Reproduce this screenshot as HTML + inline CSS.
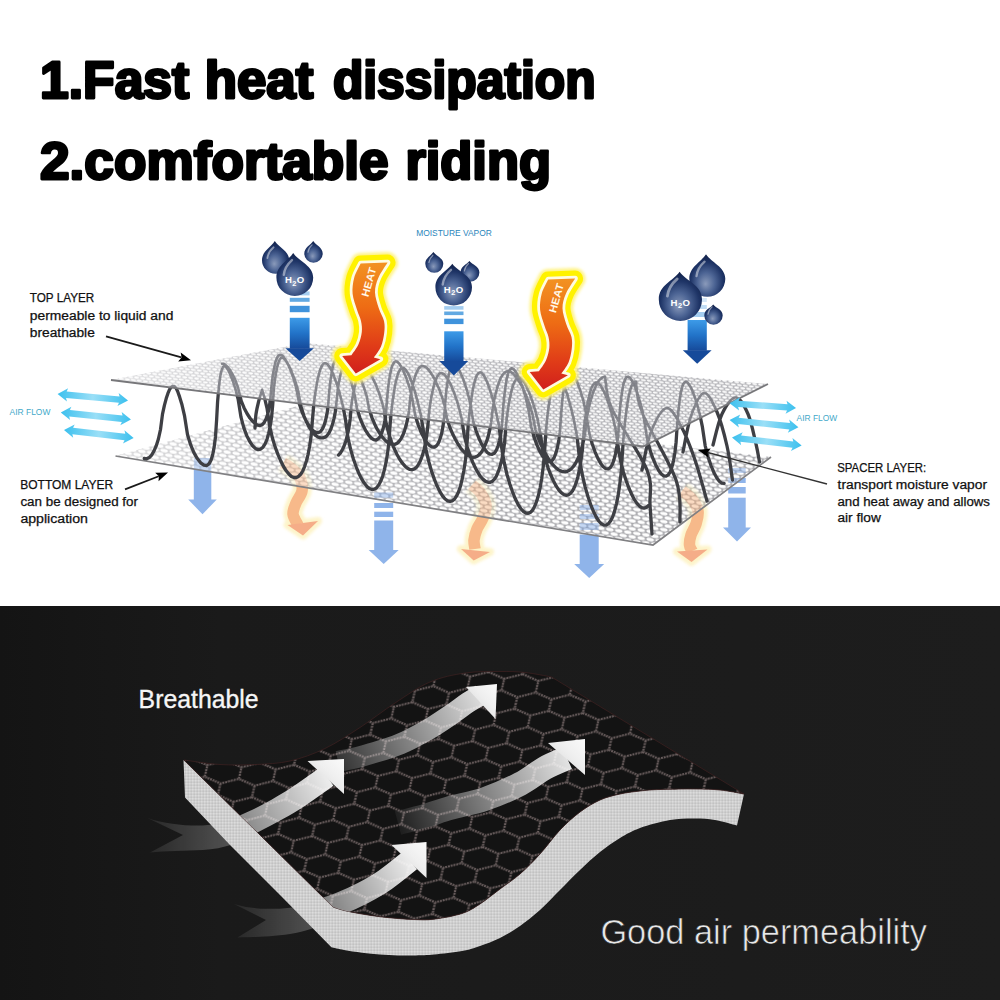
<!DOCTYPE html>
<html><head><meta charset="utf-8"><title>Fast heat dissipation</title>
<style>html,body{margin:0;padding:0;background:#fff}svg{display:block}</style>
</head><body>
<svg width="1000" height="1000" viewBox="0 0 1000 1000">
<defs>
  <pattern id="meshB" width="9" height="8" patternUnits="userSpaceOnUse" patternTransform="matrix(1 0.15 0 1 0 0)">
    <rect width="9" height="8" fill="#98989d"/>
    <ellipse cx="2.25" cy="2" rx="3.75" ry="1.75" fill="#fff"/>
    <ellipse cx="6.75" cy="6" rx="3.75" ry="1.75" fill="#fff"/>
    <ellipse cx="11.25" cy="2" rx="3.75" ry="1.75" fill="#fff"/>
    <ellipse cx="-2.25" cy="6" rx="3.75" ry="1.75" fill="#fff"/>
  </pattern>
  <pattern id="meshT" width="6" height="5.6" patternUnits="userSpaceOnUse" patternTransform="matrix(1 0.11 0 1 0 0)">
    <rect width="6" height="5.6" fill="#adadb2"/>
    <ellipse cx="1.5" cy="1.4" rx="2.45" ry="1.05" fill="#fff"/>
    <ellipse cx="4.5" cy="4.2" rx="2.45" ry="1.05" fill="#fff"/>
    <ellipse cx="7.5" cy="1.4" rx="2.45" ry="1.05" fill="#fff"/>
    <ellipse cx="-1.5" cy="4.2" rx="2.45" ry="1.05" fill="#fff"/>
  </pattern>
  <pattern id="honey" width="31" height="32" patternUnits="userSpaceOnUse" patternTransform="matrix(1.1 0.07 -0.25 1.08 3 4)">
    <rect width="31" height="32" fill="#131313"/>
    <path d="M15.5,5.33L31,10.67L31,21.33L15.5,26.67L0,21.33L0,10.67ZM15.5,26.67V32M15.5,0V5.33" fill="none" stroke="#6a5e5e" stroke-width="2" stroke-dasharray="1.7 0.8"/>
  </pattern>
  <pattern id="weave" width="3" height="3" patternUnits="userSpaceOnUse">
    <rect width="3" height="3" fill="#cfcfcf"/>
    <rect width="1.5" height="1.5" fill="#dcdcdc"/>
    <rect x="1.5" y="1.5" width="1.5" height="1.5" fill="#c2c2c2"/>
  </pattern>
  <radialGradient id="gDrop" cx="0.5" cy="0.62" r="0.6" fx="0.45" fy="0.7">
    <stop offset="0" stop-color="#8a9aba"/>
    <stop offset="0.4" stop-color="#4c6494"/>
    <stop offset="0.75" stop-color="#1e3466"/>
    <stop offset="1" stop-color="#12224a"/>
  </radialGradient>
  <linearGradient id="gBlue" x1="0" y1="0" x2="0" y2="1">
    <stop offset="0" stop-color="#3d9be8"/>
    <stop offset="0.5" stop-color="#2273c8"/>
    <stop offset="1" stop-color="#164a9a"/>
  </linearGradient>
  <linearGradient id="gHeat" x1="0" y1="0" x2="0" y2="1">
    <stop offset="0" stop-color="#f29222"/>
    <stop offset="0.4" stop-color="#ee6c14"/>
    <stop offset="0.75" stop-color="#e03c18"/>
    <stop offset="1" stop-color="#d11f1c"/>
  </linearGradient>
  <linearGradient id="gAir" x1="0" y1="0" x2="1" y2="0">
    <stop offset="0" stop-color="#3cc0ee"/>
    <stop offset="0.5" stop-color="#9adff7"/>
    <stop offset="1" stop-color="#3cc0ee"/>
  </linearGradient>
  <linearGradient id="gDark" x1="0" y1="0" x2="1" y2="0">
    <stop offset="0" stop-color="#141414"/>
    <stop offset="0.22" stop-color="#1a1a1a"/>
    <stop offset="1" stop-color="#1d1d1d"/>
  </linearGradient>
  <linearGradient id="gFade" gradientUnits="userSpaceOnUse" x1="110" y1="0" x2="520" y2="0">
    <stop offset="0" stop-color="#fff" stop-opacity="0.6"/>
    <stop offset="0.5" stop-color="#fff" stop-opacity="0.22"/>
    <stop offset="1" stop-color="#fff" stop-opacity="0"/>
  </linearGradient>
  <filter id="blur2" x="-30%" y="-30%" width="160%" height="160%"><feGaussianBlur stdDeviation="1.6"/></filter>
  <filter id="blur1" x="-30%" y="-30%" width="160%" height="160%"><feGaussianBlur stdDeviation="0.7"/></filter>
</defs>


<g font-family="'Liberation Sans', sans-serif" font-weight="700" fill="#000" stroke="#000" stroke-width="2.8" stroke-linejoin="round">
  <text y="97.8" font-size="51"><tspan x="40" textLength="149.3" lengthAdjust="spacingAndGlyphs">1.Fast</tspan> <tspan x="204.7" textLength="108.7" lengthAdjust="spacingAndGlyphs">heat</tspan> <tspan x="332.9" textLength="262.7" lengthAdjust="spacingAndGlyphs">dissipation</tspan></text>
  <text y="179.4" font-size="51"><tspan x="40" textLength="348.7" lengthAdjust="spacingAndGlyphs">2.comfortable</tspan> <tspan x="405.4" textLength="145.6" lengthAdjust="spacingAndGlyphs">riding</tspan></text>
</g>

<g id="diagram">
<g id="under">
<g><rect x="193.8" y="458" width="17.5" height="42" fill="#8fb4ea"/><polygon points="188.2,499.5 216.8,499.5 202.5,514.2" fill="#8fb4ea"/></g>
<g><rect x="374.2" y="492.5" width="19" height="5.2" fill="#8fb4ea"/><rect x="374.2" y="503" width="19" height="5" fill="#8fb4ea"/><rect x="374.2" y="511.7" width="19" height="5.3" fill="#8fb4ea"/><rect x="374.2" y="520.5" width="19" height="30" fill="#8fb4ea"/><polygon points="368.7,550 398.7,550 383.7,564" fill="#8fb4ea"/></g>
<g><rect x="579.7" y="505" width="19" height="5" fill="#8fb4ea"/><rect x="579.7" y="514" width="19" height="5" fill="#8fb4ea"/><rect x="579.7" y="523" width="19" height="7" fill="#8fb4ea"/><rect x="579.7" y="534.5" width="19" height="30" fill="#8fb4ea"/><polygon points="574.2,564 604.2,564 589.2,578" fill="#8fb4ea"/></g>
<g><rect x="728.2" y="468" width="17.5" height="5" fill="#8fb4ea"/><rect x="728.2" y="478" width="17.5" height="5" fill="#8fb4ea"/><rect x="728.2" y="487" width="17.5" height="6.5" fill="#8fb4ea"/><rect x="728.2" y="497.7" width="17.5" height="30.3" fill="#8fb4ea"/><polygon points="723,527.5 751,527.5 737,541.5" fill="#8fb4ea"/></g>
<g><g filter="url(#blur2)" opacity="0.9"><path d="M283,463C284.3,463.8 288.2,465.5 291,468C293.8,470.5 298.2,474.2 300,478C301.8,481.8 302.7,486.8 302,491C301.3,495.2 297.5,499.2 296,503C294.5,506.8 292.7,510.3 293,514C293.3,517.7 297.2,523.2 298,525" fill="none" stroke="#fdf3c4" stroke-width="19" stroke-linecap="butt"/><polygon points="287.5,525 318,521 303,535.5" fill="#fdf3c4" stroke="#fdf3c4" stroke-width="8" stroke-linejoin="round"/></g><path d="M283,463C284.3,463.8 288.2,465.5 291,468C293.8,470.5 298.2,474.2 300,478C301.8,481.8 302.7,486.8 302,491C301.3,495.2 297.5,499.2 296,503C294.5,506.8 292.7,510.3 293,514C293.3,517.7 297.2,523.2 298,525" fill="none" stroke="#f7b98a" stroke-width="11.5"/><polygon points="287.5,525 318,521 303,535.5" fill="#f5ad88"/></g>
<g><g filter="url(#blur2)" opacity="0.9"><path d="M472,485C473.3,486.2 477.7,488.7 480,492C482.3,495.3 485.5,500.7 486,505C486.5,509.3 484.5,514 483,518C481.5,522 478.5,525.3 477,529C475.5,532.7 474.3,536.7 474,540C473.7,543.3 474.8,547.5 475,549" fill="none" stroke="#fdf3c4" stroke-width="19" stroke-linecap="butt"/><polygon points="461,549 490,552 473.7,560.5" fill="#fdf3c4" stroke="#fdf3c4" stroke-width="8" stroke-linejoin="round"/></g><path d="M472,485C473.3,486.2 477.7,488.7 480,492C482.3,495.3 485.5,500.7 486,505C486.5,509.3 484.5,514 483,518C481.5,522 478.5,525.3 477,529C475.5,532.7 474.3,536.7 474,540C473.7,543.3 474.8,547.5 475,549" fill="none" stroke="#f7b98a" stroke-width="11.5"/><polygon points="461,549 490,552 473.7,560.5" fill="#f5ad88"/></g>
<g><g filter="url(#blur2)" opacity="0.9"><path d="M682,491C683.5,492.2 688.3,494.7 691,498C693.7,501.3 697.2,506.7 698,511C698.8,515.3 697.2,520 696,524C694.8,528 692.1,531.5 691,535C689.9,538.5 689.3,542.3 689.5,545C689.7,547.7 691.6,550 692,551" fill="none" stroke="#fdf3c4" stroke-width="19" stroke-linecap="butt"/><polygon points="677,551.5 707.5,549.5 691.5,562" fill="#fdf3c4" stroke="#fdf3c4" stroke-width="8" stroke-linejoin="round"/></g><path d="M682,491C683.5,492.2 688.3,494.7 691,498C693.7,501.3 697.2,506.7 698,511C698.8,515.3 697.2,520 696,524C694.8,528 692.1,531.5 691,535C689.9,538.5 689.3,542.3 689.5,545C689.7,547.7 691.6,550 692,551" fill="none" stroke="#f7b98a" stroke-width="11.5"/><polygon points="677,551.5 707.5,549.5 691.5,562" fill="#f5ad88"/></g>
</g>
<polygon points="115.5,456 305,404 771,457 653,545" fill="url(#meshB)" opacity="0.84"/>
<polygon points="115.5,456 305,404 771,457 653,545" fill="url(#gFade)"/>
<clipPath id="clipBot"><polygon points="115.5,456 305,404 771,457 653,545"/></clipPath>
<g clip-path="url(#clipBot)" opacity="0.42"><use href="#under"/></g>
<polyline points="115.5,456 653,545 771,457" fill="none" stroke="#808083" stroke-width="1.7"/>
<path d="M144.3,458.5 146.7,458.8 149.2,457.6 151.6,455.1 153.9,451.2 156.2,445.9 158.4,439 160.5,429.5 162.5,414.1 164.4,405.4 166.2,398.6 167.9,393.4 169.5,389.6 171.1,387.1 172.6,386 174.2,386 175.8,387.6 177.6,391.2 179.6,396.9 182,404.8 184.6,416.2 187.5,434.4 190.6,444.7 193.9,452.6 197.3,458.6 200.6,462.8 203.9,465.1 206.8,465.5 209,463.9 211,460.3 212.7,454.7 214.2,446.9 215.5,436.7 216.6,420.2 217.6,401.6 218.6,390.4 219.5,381.7 220.5,374.9 221.7,370 223,367 224.5,366 226.2,367.1 228.1,370 230.3,374.5 232.7,380.7 235.3,388.7 238.1,399 241,417.2 243.9,428.1 246.9,435.9 249.9,441.8 252.8,446 255.6,448.6 258.2,449.6 260.7,449.1 263,447.2 265.1,443.8 267,439.3 268.6,433.6 270.1,426.6 271.5,417.8 272.7,405.1 273.8,389.4 274.9,380.3 276,373.1 277.1,367.3 278.3,362.9 279.6,359.8 281,358 282.5,357.6 284.3,358.7 286.2,361.1 288.3,364.7 290.6,369.3 293,375.2 295.6,382.3 298.3,391.4 301,406.8 303.9,415.8 306.8,422.6 309.6,427.9 312.5,432.1 315.2,435.1 317.9,437 320.4,437.9 322.8,437.9 325.1,437.2 327.2,435.4 329.1,432.7 330.9,429 332.5,424.3 334,418.6 335.4,411.4 336.7,399.9 337.9,388.4 339.1,381.3 340.3,375.5 341.5,370.8 342.8,367.1 344.1,364.4 345.5,362.5 347,361.6 348.6,361.6 350.4,362.5 352.3,364.3 354.3,367 356.5,370.5 358.8,375 361.2,380.4 363.7,386.8 366.4,395 369.1,408.8 371.8,417.3 374.6,423.9 377.3,429.4 380.1,434 382.8,437.7 385.4,440.5 388,442.6 390.5,444 392.8,444.5 395.1,444.3 397.2,443.2 399.2,441.3 401.1,438.6 402.9,435.1 404.5,430.8 406.1,425.6 407.6,419.2 409,410.7 410.3,397.6 411.6,390.2 412.9,384.3 414.2,379.3 415.5,375.2 416.8,371.9 418.2,369.3 419.7,367.4 421.2,366.3 422.8,366 424.6,366.4 426.4,367.5 428.3,369.4 430.4,372.1 432.5,375.5 434.8,379.6 437.1,384.5 439.6,390.3 442.1,397.1 444.7,406.2 447.3,419.7 449.9,427.5 452.6,433.8 455.3,439.3 458,444 460.6,447.9 463.2,451.2 465.7,453.7 468.2,455.6 470.6,456.8 472.9,457.3 475.2,457.1 477.3,456.2 479.3,454.6 481.3,452.3 483.1,449.4 484.9,445.7 486.6,441.4 488.2,436.3 489.7,430.2 491.2,422.5 492.6,409.1 494,401 495.4,394.7 496.8,389.4 498.1,384.8 499.5,380.9 500.9,377.7 502.4,375.1 503.9,373.2 505.5,371.9 507.1,371.2 508.8,371.1 510.6,371.8 512.5,373 514.4,374.9 516.5,377.4 518.6,380.5 520.8,384.3 523.1,388.7 525.4,393.8 527.8,399.7 530.3,406.6 532.8,415.7 535.3,429.3 537.9,437.1 540.5,443.6 543.1,449.2 545.7,454.1 548.2,458.4 550.8,462.1 553.3,465.2 555.8,467.7 558.2,469.6 560.6,470.9 562.9,471.7 565.1,471.8 567.3,471.3 569.4,470.3 571.4,468.7 573.4,466.5 575.3,463.7 577.1,460.3 578.8,456.3 580.5,451.7 582.1,446.4 583.7,440.2 585.2,432.2 586.7,418.8 588.2,410.8 589.6,404.5 591.1,399.1 592.5,394.4 594,390.2 595.5,386.7 597,383.7 598.5,381.3 600.1,379.3 601.7,378 603.3,377.2 605.1,376.9 M262.1,389.9 264.6,398.1 267.1,408.7 269.8,427 272.5,438.3 275.2,447.2 278,454.7 280.8,461.1 283.5,466.5 286.2,470.8 288.8,474.1 291.4,476.4 293.9,477.5 296.3,477.5 298.5,476.4 300.7,474.3 302.7,471 304.6,466.6 306.4,461 308.1,454.3 309.6,446.2 311.1,436.3 312.5,419.1 313.8,404.8 315,395 316.3,387 317.5,380.2 318.8,374.6 320.1,370.1 321.4,366.7 322.8,364.4 324.3,363.2 325.9,363.2 327.5,364.3 329.4,366.6 331.3,370 333.3,374.6 335.5,380.3 337.8,387.1 340.2,395.3 342.7,405.2 345.3,418.2 348,438.1 350.7,449.6 353.4,459 356.2,466.8 358.9,473.5 361.7,479 364.4,483.3 367,486.6 369.5,488.6 372,489.5 374.4,489.2 376.6,487.8 378.7,485.1 380.7,481.3 382.6,476.3 384.3,470.1 386,462.7 387.5,453.6 388.9,442.3 390.3,422.2 391.6,409.2 392.9,399.4 394.1,391.2 395.3,384.3 396.6,378.7 397.9,374.2 399.2,370.9 400.7,368.7 402.2,367.8 403.8,368.1 405.5,369.5 407.3,372.2 409.3,376.1 411.4,381.3 413.6,387.6 415.9,395.2 418.3,404.3 420.9,415.3 423.5,431.3 426.1,450.5 428.9,462 431.6,471.4 434.4,479.4 437.1,486.1 439.9,491.6 442.5,495.9 445.1,499 447.7,500.8 450.1,501.4 452.4,500.8 454.6,498.9 456.7,495.8 458.7,491.5 460.5,485.9 462.2,479 463.8,470.7 465.4,460.6 466.8,447.6 468.1,426.1 469.4,413.5 470.7,403.6 471.9,395.3 473.1,388.4 474.4,382.7 475.7,378.2 477.1,375 478.5,373.1 480.1,372.4 481.7,373 483.4,374.9 485.3,378 487.3,382.5 489.4,388.2 491.6,395.2 494,403.6 496.4,413.6 499,425.9 501.6,447.5 504.3,463 507,474.5 509.8,484 512.6,492 515.3,498.8 518,504.3 520.7,508.5 523.3,511.4 525.8,513 528.2,513.3 530.5,512.3 532.7,510 534.7,506.3 536.6,501.4 538.5,495.1 540.2,487.5 541.7,478.3 543.2,467.1 544.6,451.7 546,430 547.2,417.6 548.5,407.7 549.7,399.3 551,392.3 552.2,386.6 553.6,382.2 554.9,379.2 556.4,377.5 558,377.1 559.6,378 561.4,380.4 563.3,384 565.3,389 567.5,395.4 569.7,403.1 572.1,412.3 574.6,423.4 577.1,437.3 579.8,461 582.5,475.7 585.2,487.1 588,496.7 590.8,504.8 593.5,511.6 596.2,517 598.8,521 601.4,523.8 603.9,525.1 606.3,525.1 608.5,523.6 610.7,520.8 612.7,516.7 614.6,511.1 616.4,504.1 618.1,495.7 619.6,485.6 621.1,473.1 622.5,451.7 623.8,433.8 625,421.6 626.3,411.6 627.5,403.1 628.8,396.1 630.1,390.5 631.4,386.2 632.8,383.4 634.3,381.9 635.9,381.9 M222,363.8 223.8,363.9 225.7,365.1 227.9,367.2 230.3,370.4 232.8,374.8 235.5,380.5 238.3,388.6 241.2,400.9 244.1,407.9 247,413.5 249.9,418 252.7,421.4 255.3,423.9 257.8,425.2 260.1,425.5 262.3,424.6 264.2,422.6 265.9,419.3 267.5,414.9 268.9,409.1 270.1,401.6 271.3,387.8 272.4,378.3 273.5,371.3 274.6,365.7 275.7,361.2 277,357.8 278.4,355.7 280,354.8 281.8,355.1 283.7,357.1 285.9,360.4 288.3,365 290.8,370.8 293.5,378.2 296.3,388.4 299.2,403.4 302.1,412 305,418.7 307.9,424 310.7,428.1 313.3,430.9 315.8,432.5 318.1,432.7 320.3,431.7 322.2,429.3 323.9,425.7 325.5,420.7 326.9,414.4 328.1,406.1 329.3,391.1 330.4,381 331.5,373.6 332.6,367.9 333.7,363.4 335,360.3 336.4,358.4 338,357.9 339.8,358.6 341.7,360.8 343.9,364.2 346.3,369 348.8,375.1 351.5,382.9 354.3,393.6 357.2,409.3 360.1,418.3 363,425.3 365.9,430.9 368.7,435.2 371.3,438.1 373.8,439.7 376.1,440 378.3,438.8 380.2,436.4 381.9,432.6 383.5,427.3 384.9,420.6 386.1,411.9 387.3,396.2 388.4,385.6 389.5,377.9 390.6,371.9 391.7,367.2 393,363.9 394.4,361.9 396,361.3 397.8,362.2 399.7,364.4 401.9,368 404.3,373 406.8,379.4 409.5,387.5 412.3,398.7 415.2,415.2 418.1,424.6 421,431.9 423.9,437.8 426.7,442.2 429.3,445.3 431.8,446.9 434.1,447.2 436.3,446 438.2,443.4 439.9,439.4 441.5,434 442.9,426.9 444.1,417.8 445.3,401.3 446.4,390.2 447.5,382.2 448.6,375.8 449.7,371 451,367.5 452.4,365.4 454,364.8 455.8,365.7 457.7,368 459.9,371.7 462.3,376.9 464.8,383.7 467.5,392.2 470.3,403.8 473.2,421.1 476.1,430.8 479,438.5 481.9,444.6 484.7,449.3 487.3,452.5 489.8,454.2 492.1,454.4 494.3,453.2 496.2,450.5 497.9,446.3 499.5,440.6 500.9,433.2 502.1,423.7 503.3,406.5 504.4,394.9 505.5,386.5 506.6,379.8 507.7,374.7 509,371.1 510.4,369 512,368.3 513.8,369.2 515.7,371.6 517.9,375.5 520.3,380.9 522.8,387.9 525.5,396.8 528.3,409 531.2,426.9 534.1,437.1 537,445.1 539.9,451.5 542.7,456.3 545.3,459.6 547.8,461.4 550.1,461.7 552.3,460.4 554.2,457.5 555.9,453.1 557.5,447.2 558.9,439.5 560.1,429.6 561.3,411.6 562.4,399.5 563.5,390.7 564.6,383.8 565.7,378.5 567,374.7 568.4,372.5 570,371.8 571.8,372.7 573.7,375.2 575.9,379.3 578.3,384.9 580.8,392.2 583.5,401.4 586.3,414.1 589.2,432.9 592.1,443.5 595,451.8 597.9,458.4 600.7,463.4 603.3,466.8 605.8,468.7 608.1,468.9 610.3,467.6 612.2,464.6 613.9,460.1 615.5,453.9 616.9,446 618.1,435.8 619.3,417.3 620.4,404.8 621.5,395.8 622.6,388.8 623.7,383.3 625,379.5 626.4,377.2 628,376.6 629.8,377.6 631.7,380.2 633.9,384.4 636.3,390.3 638.8,397.8 641.5,407.2 644.3,420.2 647.2,439.3 650.1,450.2 653,458.7 655.9,465.4 658.7,470.5 661.3,474 663.8,475.9 666.1,476.2 668.3,474.8 670.2,471.8 671.9,467.1 673.5,460.8 674.9,452.7 676.1,442.2 677.3,423.3 678.4,410.6 679.5,401.4 680.6,394.2 681.7,388.6 683,384.7 684.4,382.4 686,381.7 687.8,382.7 689.7,385.4 691.9,389.7 694.3,395.7 696.8,403.3 699.5,413 702.3,426.3 705.2,445.8 708.1,456.9 711,465.6 713.9,472.4 716.7,477.7 719.3,481.2 721.8,483.2 724.1,483.4 M338.5,455.1 340.5,452.9 342.3,449.9 344.1,446 345.8,441.2 347.3,435.4 348.8,428.4 350.2,418.9 351.5,404.2 352.8,395.8 354.1,389.2 355.4,383.5 356.7,378.8 358,375 359.4,372.1 360.8,370 362.4,368.8 364,368.4 365.7,369 367.6,370.5 369.5,372.8 371.6,376.1 373.8,380.3 376.1,385.4 378.5,391.5 381,398.8 383.6,407.9 386.2,423.7 388.9,434.1 391.6,442.1 394.3,448.8 397,454.5 399.7,459.3 402.4,463.2 405,466.2 407.5,468.2 409.9,469.4 412.2,469.6 414.4,468.9 416.5,467.2 418.4,464.6 420.3,461 422,456.5 423.7,451 425.2,444.4 426.7,436.2 428,424.2 429.4,409.6 430.7,401 431.9,394.1 433.2,388.2 434.5,383.3 435.9,379.4 437.3,376.4 438.7,374.4 440.3,373.3 441.9,373.1 443.7,374 445.5,375.8 447.5,378.6 449.6,382.4 451.9,387.2 454.2,393 456.6,399.9 459.1,408.2 461.7,418.8 464.4,436.2 467.1,446.5 469.8,454.7 472.5,461.7 475.2,467.6 477.9,472.5 480.5,476.5 483.1,479.4 485.6,481.4 488,482.3 490.2,482.3 492.4,481.2 494.5,479.1 496.4,476.1 498.2,471.9 499.9,466.8 501.6,460.5 503.1,452.9 504.5,443.5 505.9,426.7 507.2,414.7 508.5,406 509.8,398.8 511,392.7 512.4,387.7 513.7,383.7 515.1,380.7 516.6,378.7 518.2,377.8 519.9,377.9 521.6,379.1 523.5,381.3 525.6,384.6 527.7,389 529.9,394.4 532.3,400.9 534.7,408.7 537.3,418 539.9,430.8 542.5,448.8 545.2,459.1 548,467.6 550.7,474.8 553.4,480.8 556.1,485.9 558.7,489.8 561.2,492.7 563.7,494.5 566,495.3 568.3,494.9 570.4,493.5 572.5,490.9 574.4,487.3 576.2,482.6 577.9,476.7 579.4,469.6 580.9,461.1 582.4,450.1 583.7,431.2 585,419.7 586.3,410.8 587.6,403.3 588.9,397.1 590.2,391.9 591.5,387.9 593,385 594.5,383.1 596.1,382.4 597.8,382.8 599.6,384.3 601.5,387 603.6,390.8 605.7,395.7 608,401.8 610.4,409.1 612.9,417.8 615.4,428.4 618,446.4 620.7,461.5 623.4,472 626.1,480.6 628.9,488 631.6,494.2 634.2,499.3 636.8,503.2 639.3,506 641.8,507.6 644.1,508.1 646.3,507.4 648.5,505.5 M605.1,376.9C606.2,382.2 605.1,393.4 612.1,408.9C619,424.4 640.7,454 647,470C653.3,486 649.2,494.3 650,505C650.8,515.7 651.7,529.2 652,534 M635.9,381.9C636.9,386.9 635.2,395.5 641.9,411.9C648.5,428.2 669.6,461.6 676,480C682.4,498.4 679.3,515 680,522 M642,470C643.5,463.7 646.9,442.3 651,432C655.1,421.7 661.5,409 666.5,408C671.5,407 676.2,417.3 681,426C685.8,434.7 690.7,447.5 695,460C699.3,472.5 705,494.2 707,501 M683,452C684.3,446 687.5,425.8 691,416C694.5,406.2 699.7,393.7 704,393C708.3,392.3 713.2,403.2 717,412C720.8,420.8 724.4,434.7 727,446C729.6,457.3 731.6,474.3 732.5,480 M713,445C714.5,439.8 718.2,421.9 722,414C725.8,406.1 731.2,397.5 735.5,397.5C739.8,397.5 744.6,406.2 748,414C751.4,421.8 754.1,436 756,444C757.9,452 758.9,459 759.5,462 M255,428C255.2,425.7 255.4,418.3 256,414C256.6,409.7 257.5,406 258.5,402C259.5,398 261.5,391.9 262.1,389.9" fill="none" stroke="#3e3f44" stroke-width="3.3" stroke-linecap="round" stroke-linejoin="round"/>
<polygon points="111,380 305,343 768,384 643,446.5" fill="#fff" opacity="0.78"/>
<polygon points="111,380 305,343 768,384 643,446.5" fill="url(#meshT)" opacity="0.9"/>
<polygon points="111,380 305,343 768,384 643,446.5" fill="url(#gFade)"/>
<clipPath id="clipTop"><polygon points="111,380 305,343 768,384 643,446.5"/></clipPath>
<g clip-path="url(#clipTop)"><path d="M144.3,458.5 146.7,458.8 149.2,457.6 151.6,455.1 153.9,451.2 156.2,445.9 158.4,439 160.5,429.5 162.5,414.1 164.4,405.4 166.2,398.6 167.9,393.4 169.5,389.6 171.1,387.1 172.6,386 174.2,386 175.8,387.6 177.6,391.2 179.6,396.9 182,404.8 184.6,416.2 187.5,434.4 190.6,444.7 193.9,452.6 197.3,458.6 200.6,462.8 203.9,465.1 206.8,465.5 209,463.9 211,460.3 212.7,454.7 214.2,446.9 215.5,436.7 216.6,420.2 217.6,401.6 218.6,390.4 219.5,381.7 220.5,374.9 221.7,370 223,367 224.5,366 226.2,367.1 228.1,370 230.3,374.5 232.7,380.7 235.3,388.7 238.1,399 241,417.2 243.9,428.1 246.9,435.9 249.9,441.8 252.8,446 255.6,448.6 258.2,449.6 260.7,449.1 263,447.2 265.1,443.8 267,439.3 268.6,433.6 270.1,426.6 271.5,417.8 272.7,405.1 273.8,389.4 274.9,380.3 276,373.1 277.1,367.3 278.3,362.9 279.6,359.8 281,358 282.5,357.6 284.3,358.7 286.2,361.1 288.3,364.7 290.6,369.3 293,375.2 295.6,382.3 298.3,391.4 301,406.8 303.9,415.8 306.8,422.6 309.6,427.9 312.5,432.1 315.2,435.1 317.9,437 320.4,437.9 322.8,437.9 325.1,437.2 327.2,435.4 329.1,432.7 330.9,429 332.5,424.3 334,418.6 335.4,411.4 336.7,399.9 337.9,388.4 339.1,381.3 340.3,375.5 341.5,370.8 342.8,367.1 344.1,364.4 345.5,362.5 347,361.6 348.6,361.6 350.4,362.5 352.3,364.3 354.3,367 356.5,370.5 358.8,375 361.2,380.4 363.7,386.8 366.4,395 369.1,408.8 371.8,417.3 374.6,423.9 377.3,429.4 380.1,434 382.8,437.7 385.4,440.5 388,442.6 390.5,444 392.8,444.5 395.1,444.3 397.2,443.2 399.2,441.3 401.1,438.6 402.9,435.1 404.5,430.8 406.1,425.6 407.6,419.2 409,410.7 410.3,397.6 411.6,390.2 412.9,384.3 414.2,379.3 415.5,375.2 416.8,371.9 418.2,369.3 419.7,367.4 421.2,366.3 422.8,366 424.6,366.4 426.4,367.5 428.3,369.4 430.4,372.1 432.5,375.5 434.8,379.6 437.1,384.5 439.6,390.3 442.1,397.1 444.7,406.2 447.3,419.7 449.9,427.5 452.6,433.8 455.3,439.3 458,444 460.6,447.9 463.2,451.2 465.7,453.7 468.2,455.6 470.6,456.8 472.9,457.3 475.2,457.1 477.3,456.2 479.3,454.6 481.3,452.3 483.1,449.4 484.9,445.7 486.6,441.4 488.2,436.3 489.7,430.2 491.2,422.5 492.6,409.1 494,401 495.4,394.7 496.8,389.4 498.1,384.8 499.5,380.9 500.9,377.7 502.4,375.1 503.9,373.2 505.5,371.9 507.1,371.2 508.8,371.1 510.6,371.8 512.5,373 514.4,374.9 516.5,377.4 518.6,380.5 520.8,384.3 523.1,388.7 525.4,393.8 527.8,399.7 530.3,406.6 532.8,415.7 535.3,429.3 537.9,437.1 540.5,443.6 543.1,449.2 545.7,454.1 548.2,458.4 550.8,462.1 553.3,465.2 555.8,467.7 558.2,469.6 560.6,470.9 562.9,471.7 565.1,471.8 567.3,471.3 569.4,470.3 571.4,468.7 573.4,466.5 575.3,463.7 577.1,460.3 578.8,456.3 580.5,451.7 582.1,446.4 583.7,440.2 585.2,432.2 586.7,418.8 588.2,410.8 589.6,404.5 591.1,399.1 592.5,394.4 594,390.2 595.5,386.7 597,383.7 598.5,381.3 600.1,379.3 601.7,378 603.3,377.2 605.1,376.9 M262.1,389.9 264.6,398.1 267.1,408.7 269.8,427 272.5,438.3 275.2,447.2 278,454.7 280.8,461.1 283.5,466.5 286.2,470.8 288.8,474.1 291.4,476.4 293.9,477.5 296.3,477.5 298.5,476.4 300.7,474.3 302.7,471 304.6,466.6 306.4,461 308.1,454.3 309.6,446.2 311.1,436.3 312.5,419.1 313.8,404.8 315,395 316.3,387 317.5,380.2 318.8,374.6 320.1,370.1 321.4,366.7 322.8,364.4 324.3,363.2 325.9,363.2 327.5,364.3 329.4,366.6 331.3,370 333.3,374.6 335.5,380.3 337.8,387.1 340.2,395.3 342.7,405.2 345.3,418.2 348,438.1 350.7,449.6 353.4,459 356.2,466.8 358.9,473.5 361.7,479 364.4,483.3 367,486.6 369.5,488.6 372,489.5 374.4,489.2 376.6,487.8 378.7,485.1 380.7,481.3 382.6,476.3 384.3,470.1 386,462.7 387.5,453.6 388.9,442.3 390.3,422.2 391.6,409.2 392.9,399.4 394.1,391.2 395.3,384.3 396.6,378.7 397.9,374.2 399.2,370.9 400.7,368.7 402.2,367.8 403.8,368.1 405.5,369.5 407.3,372.2 409.3,376.1 411.4,381.3 413.6,387.6 415.9,395.2 418.3,404.3 420.9,415.3 423.5,431.3 426.1,450.5 428.9,462 431.6,471.4 434.4,479.4 437.1,486.1 439.9,491.6 442.5,495.9 445.1,499 447.7,500.8 450.1,501.4 452.4,500.8 454.6,498.9 456.7,495.8 458.7,491.5 460.5,485.9 462.2,479 463.8,470.7 465.4,460.6 466.8,447.6 468.1,426.1 469.4,413.5 470.7,403.6 471.9,395.3 473.1,388.4 474.4,382.7 475.7,378.2 477.1,375 478.5,373.1 480.1,372.4 481.7,373 483.4,374.9 485.3,378 487.3,382.5 489.4,388.2 491.6,395.2 494,403.6 496.4,413.6 499,425.9 501.6,447.5 504.3,463 507,474.5 509.8,484 512.6,492 515.3,498.8 518,504.3 520.7,508.5 523.3,511.4 525.8,513 528.2,513.3 530.5,512.3 532.7,510 534.7,506.3 536.6,501.4 538.5,495.1 540.2,487.5 541.7,478.3 543.2,467.1 544.6,451.7 546,430 547.2,417.6 548.5,407.7 549.7,399.3 551,392.3 552.2,386.6 553.6,382.2 554.9,379.2 556.4,377.5 558,377.1 559.6,378 561.4,380.4 563.3,384 565.3,389 567.5,395.4 569.7,403.1 572.1,412.3 574.6,423.4 577.1,437.3 579.8,461 582.5,475.7 585.2,487.1 588,496.7 590.8,504.8 593.5,511.6 596.2,517 598.8,521 601.4,523.8 603.9,525.1 606.3,525.1 608.5,523.6 610.7,520.8 612.7,516.7 614.6,511.1 616.4,504.1 618.1,495.7 619.6,485.6 621.1,473.1 622.5,451.7 623.8,433.8 625,421.6 626.3,411.6 627.5,403.1 628.8,396.1 630.1,390.5 631.4,386.2 632.8,383.4 634.3,381.9 635.9,381.9 M222,363.8 223.8,363.9 225.7,365.1 227.9,367.2 230.3,370.4 232.8,374.8 235.5,380.5 238.3,388.6 241.2,400.9 244.1,407.9 247,413.5 249.9,418 252.7,421.4 255.3,423.9 257.8,425.2 260.1,425.5 262.3,424.6 264.2,422.6 265.9,419.3 267.5,414.9 268.9,409.1 270.1,401.6 271.3,387.8 272.4,378.3 273.5,371.3 274.6,365.7 275.7,361.2 277,357.8 278.4,355.7 280,354.8 281.8,355.1 283.7,357.1 285.9,360.4 288.3,365 290.8,370.8 293.5,378.2 296.3,388.4 299.2,403.4 302.1,412 305,418.7 307.9,424 310.7,428.1 313.3,430.9 315.8,432.5 318.1,432.7 320.3,431.7 322.2,429.3 323.9,425.7 325.5,420.7 326.9,414.4 328.1,406.1 329.3,391.1 330.4,381 331.5,373.6 332.6,367.9 333.7,363.4 335,360.3 336.4,358.4 338,357.9 339.8,358.6 341.7,360.8 343.9,364.2 346.3,369 348.8,375.1 351.5,382.9 354.3,393.6 357.2,409.3 360.1,418.3 363,425.3 365.9,430.9 368.7,435.2 371.3,438.1 373.8,439.7 376.1,440 378.3,438.8 380.2,436.4 381.9,432.6 383.5,427.3 384.9,420.6 386.1,411.9 387.3,396.2 388.4,385.6 389.5,377.9 390.6,371.9 391.7,367.2 393,363.9 394.4,361.9 396,361.3 397.8,362.2 399.7,364.4 401.9,368 404.3,373 406.8,379.4 409.5,387.5 412.3,398.7 415.2,415.2 418.1,424.6 421,431.9 423.9,437.8 426.7,442.2 429.3,445.3 431.8,446.9 434.1,447.2 436.3,446 438.2,443.4 439.9,439.4 441.5,434 442.9,426.9 444.1,417.8 445.3,401.3 446.4,390.2 447.5,382.2 448.6,375.8 449.7,371 451,367.5 452.4,365.4 454,364.8 455.8,365.7 457.7,368 459.9,371.7 462.3,376.9 464.8,383.7 467.5,392.2 470.3,403.8 473.2,421.1 476.1,430.8 479,438.5 481.9,444.6 484.7,449.3 487.3,452.5 489.8,454.2 492.1,454.4 494.3,453.2 496.2,450.5 497.9,446.3 499.5,440.6 500.9,433.2 502.1,423.7 503.3,406.5 504.4,394.9 505.5,386.5 506.6,379.8 507.7,374.7 509,371.1 510.4,369 512,368.3 513.8,369.2 515.7,371.6 517.9,375.5 520.3,380.9 522.8,387.9 525.5,396.8 528.3,409 531.2,426.9 534.1,437.1 537,445.1 539.9,451.5 542.7,456.3 545.3,459.6 547.8,461.4 550.1,461.7 552.3,460.4 554.2,457.5 555.9,453.1 557.5,447.2 558.9,439.5 560.1,429.6 561.3,411.6 562.4,399.5 563.5,390.7 564.6,383.8 565.7,378.5 567,374.7 568.4,372.5 570,371.8 571.8,372.7 573.7,375.2 575.9,379.3 578.3,384.9 580.8,392.2 583.5,401.4 586.3,414.1 589.2,432.9 592.1,443.5 595,451.8 597.9,458.4 600.7,463.4 603.3,466.8 605.8,468.7 608.1,468.9 610.3,467.6 612.2,464.6 613.9,460.1 615.5,453.9 616.9,446 618.1,435.8 619.3,417.3 620.4,404.8 621.5,395.8 622.6,388.8 623.7,383.3 625,379.5 626.4,377.2 628,376.6 629.8,377.6 631.7,380.2 633.9,384.4 636.3,390.3 638.8,397.8 641.5,407.2 644.3,420.2 647.2,439.3 650.1,450.2 653,458.7 655.9,465.4 658.7,470.5 661.3,474 663.8,475.9 666.1,476.2 668.3,474.8 670.2,471.8 671.9,467.1 673.5,460.8 674.9,452.7 676.1,442.2 677.3,423.3 678.4,410.6 679.5,401.4 680.6,394.2 681.7,388.6 683,384.7 684.4,382.4 686,381.7 687.8,382.7 689.7,385.4 691.9,389.7 694.3,395.7 696.8,403.3 699.5,413 702.3,426.3 705.2,445.8 708.1,456.9 711,465.6 713.9,472.4 716.7,477.7 719.3,481.2 721.8,483.2 724.1,483.4 M338.5,455.1 340.5,452.9 342.3,449.9 344.1,446 345.8,441.2 347.3,435.4 348.8,428.4 350.2,418.9 351.5,404.2 352.8,395.8 354.1,389.2 355.4,383.5 356.7,378.8 358,375 359.4,372.1 360.8,370 362.4,368.8 364,368.4 365.7,369 367.6,370.5 369.5,372.8 371.6,376.1 373.8,380.3 376.1,385.4 378.5,391.5 381,398.8 383.6,407.9 386.2,423.7 388.9,434.1 391.6,442.1 394.3,448.8 397,454.5 399.7,459.3 402.4,463.2 405,466.2 407.5,468.2 409.9,469.4 412.2,469.6 414.4,468.9 416.5,467.2 418.4,464.6 420.3,461 422,456.5 423.7,451 425.2,444.4 426.7,436.2 428,424.2 429.4,409.6 430.7,401 431.9,394.1 433.2,388.2 434.5,383.3 435.9,379.4 437.3,376.4 438.7,374.4 440.3,373.3 441.9,373.1 443.7,374 445.5,375.8 447.5,378.6 449.6,382.4 451.9,387.2 454.2,393 456.6,399.9 459.1,408.2 461.7,418.8 464.4,436.2 467.1,446.5 469.8,454.7 472.5,461.7 475.2,467.6 477.9,472.5 480.5,476.5 483.1,479.4 485.6,481.4 488,482.3 490.2,482.3 492.4,481.2 494.5,479.1 496.4,476.1 498.2,471.9 499.9,466.8 501.6,460.5 503.1,452.9 504.5,443.5 505.9,426.7 507.2,414.7 508.5,406 509.8,398.8 511,392.7 512.4,387.7 513.7,383.7 515.1,380.7 516.6,378.7 518.2,377.8 519.9,377.9 521.6,379.1 523.5,381.3 525.6,384.6 527.7,389 529.9,394.4 532.3,400.9 534.7,408.7 537.3,418 539.9,430.8 542.5,448.8 545.2,459.1 548,467.6 550.7,474.8 553.4,480.8 556.1,485.9 558.7,489.8 561.2,492.7 563.7,494.5 566,495.3 568.3,494.9 570.4,493.5 572.5,490.9 574.4,487.3 576.2,482.6 577.9,476.7 579.4,469.6 580.9,461.1 582.4,450.1 583.7,431.2 585,419.7 586.3,410.8 587.6,403.3 588.9,397.1 590.2,391.9 591.5,387.9 593,385 594.5,383.1 596.1,382.4 597.8,382.8 599.6,384.3 601.5,387 603.6,390.8 605.7,395.7 608,401.8 610.4,409.1 612.9,417.8 615.4,428.4 618,446.4 620.7,461.5 623.4,472 626.1,480.6 628.9,488 631.6,494.2 634.2,499.3 636.8,503.2 639.3,506 641.8,507.6 644.1,508.1 646.3,507.4 648.5,505.5 M605.1,376.9C606.2,382.2 605.1,393.4 612.1,408.9C619,424.4 640.7,454 647,470C653.3,486 649.2,494.3 650,505C650.8,515.7 651.7,529.2 652,534 M635.9,381.9C636.9,386.9 635.2,395.5 641.9,411.9C648.5,428.2 669.6,461.6 676,480C682.4,498.4 679.3,515 680,522 M642,470C643.5,463.7 646.9,442.3 651,432C655.1,421.7 661.5,409 666.5,408C671.5,407 676.2,417.3 681,426C685.8,434.7 690.7,447.5 695,460C699.3,472.5 705,494.2 707,501 M683,452C684.3,446 687.5,425.8 691,416C694.5,406.2 699.7,393.7 704,393C708.3,392.3 713.2,403.2 717,412C720.8,420.8 724.4,434.7 727,446C729.6,457.3 731.6,474.3 732.5,480 M713,445C714.5,439.8 718.2,421.9 722,414C725.8,406.1 731.2,397.5 735.5,397.5C739.8,397.5 744.6,406.2 748,414C751.4,421.8 754.1,436 756,444C757.9,452 758.9,459 759.5,462 M255,428C255.2,425.7 255.4,418.3 256,414C256.6,409.7 257.5,406 258.5,402C259.5,398 261.5,391.9 262.1,389.9" fill="none" stroke="#74757c" stroke-width="2.6" stroke-linecap="round" stroke-linejoin="round" opacity="0.85"/></g>
<polyline points="111,380 643,446.5 768,384" fill="none" stroke="#77777a" stroke-width="1.8"/>
<g><rect x="289.8" y="291.4" width="19.8" height="4" fill="#a4cdf0"/><rect x="289.8" y="297.8" width="19.8" height="4" fill="#62a9e2"/><rect x="289.8" y="305.8" width="19.8" height="6.4" fill="#3f93dc"/><rect x="289.8" y="317.8" width="19.8" height="30.9" fill="url(#gBlue)"/><polygon points="285.4,348.2 313.9,348.2 299.7,361" fill="#164a9a"/></g>
<path d="M274.8,241 C278.9,247.5 289.2,251.2 289.2,260.2 A13.6,13.6 0 1 1 262,260.2 C262,251.2 270.7,247.5 274.8,241Z" fill="url(#gDrop)"/><path d="M273.6,247.3 Q268.1,252 267.4,258.2" fill="none" stroke="#fff" stroke-opacity="0.45" stroke-width="1.8" stroke-linecap="round"/>
<path d="M313.2,241 C316,245.3 322.7,247.5 322.7,253.6 A9.2,9.2 0 1 1 304.3,253.6 C304.3,247.5 310.4,245.3 313.2,241Z" fill="url(#gDrop)"/><path d="M312.1,244.9 Q308.4,248.1 308,252.2" fill="none" stroke="#fff" stroke-opacity="0.45" stroke-width="1.2" stroke-linecap="round"/>
<path d="M293.2,253 C298.7,261.4 313.2,265.5 313.2,277.6 A18.4,18.4 0 1 1 276.4,277.6 C276.4,265.5 287.7,261.4 293.2,253Z" fill="url(#gDrop)"/><path d="M292,260.1 Q284.7,266.6 283.8,274.8" fill="none" stroke="#fff" stroke-opacity="0.45" stroke-width="2.4" stroke-linecap="round"/>
<text x="294.8" y="283" text-anchor="middle" font-family="'Liberation Sans', sans-serif" font-weight="700" font-size="9.6" fill="#fff" letter-spacing="0.4">H<tspan font-size="7.4" dy="2.6">2</tspan><tspan dy="-2.6">O</tspan></text>
<g><rect x="444.2" y="306.1" width="19.3" height="3.6" fill="#a4cdf0"/><rect x="444.2" y="311.5" width="19.3" height="3.6" fill="#62a9e2"/><rect x="444.2" y="318.7" width="19.3" height="5.4" fill="#3f93dc"/><rect x="444.2" y="331.3" width="19.3" height="30.2" fill="url(#gBlue)"/><polygon points="439.4,361 468.2,361 453.8,375.4" fill="#164a9a"/></g>
<path d="M433.4,252.1 C436.1,256.1 443.3,257.9 443.3,263.8 A9,9 0 1 1 425.3,263.8 C425.3,257.9 430.7,256.1 433.4,252.1Z" fill="url(#gDrop)"/><path d="M432.9,255.2 Q429.4,258.4 428.9,262.4" fill="none" stroke="#fff" stroke-opacity="0.45" stroke-width="1.2" stroke-linecap="round"/>
<path d="M469.4,261.1 C472.2,264.9 479.4,266.2 479.4,272.4 A9.4,9.4 0 1 1 460.6,272.4 C460.6,266.2 466.6,264.9 469.4,261.1Z" fill="url(#gDrop)"/><path d="M468.6,263.5 Q464.8,266.8 464.4,271" fill="none" stroke="#fff" stroke-opacity="0.45" stroke-width="1.2" stroke-linecap="round"/>
<path d="M452.3,263.8 C457.8,271.8 472,275.1 472,287.2 A18.3,18.3 0 1 1 435.4,287.2 C435.4,275.1 446.8,271.8 452.3,263.8Z" fill="url(#gDrop)"/><path d="M451,269.8 Q443.6,276.2 442.7,284.5" fill="none" stroke="#fff" stroke-opacity="0.45" stroke-width="2.4" stroke-linecap="round"/>
<text x="453.7" y="292.5" text-anchor="middle" font-family="'Liberation Sans', sans-serif" font-weight="700" font-size="9.6" fill="#fff" letter-spacing="0.4">H<tspan font-size="7.4" dy="2.6">2</tspan><tspan dy="-2.6">O</tspan></text>
<g><rect x="687.6" y="298" width="19.2" height="4" fill="#d4e6f6"/><rect x="687.6" y="305" width="19.2" height="4" fill="#c0dcf4"/><rect x="687.6" y="312" width="19.2" height="5" fill="#a4cdf0"/><rect x="687.6" y="320" width="19.2" height="30.7" fill="url(#gBlue)"/><polygon points="682.8,350.2 711.6,350.2 697.2,363.8" fill="#164a9a"/></g>
<path d="M706,254.2 C711.4,262.6 725.3,266.9 725.3,278.8 A18,18 0 1 1 689.3,278.8 C689.3,266.9 700.6,262.6 706,254.2Z" fill="url(#gDrop)"/><path d="M704.6,261.7 Q697.4,268 696.5,276.1" fill="none" stroke="#fff" stroke-opacity="0.45" stroke-width="2.3" stroke-linecap="round"/>
<path d="M713.2,304.6 C716,308.3 722.7,309.5 722.7,315.6 A9.2,9.2 0 1 1 704.3,315.6 C704.3,309.5 710.4,308.3 713.2,304.6Z" fill="url(#gDrop)"/><path d="M712.1,306.9 Q708.4,310.1 708,314.2" fill="none" stroke="#fff" stroke-opacity="0.45" stroke-width="1.2" stroke-linecap="round"/>
<path d="M679.6,271.8 C686.1,281.2 702,285.1 702,299.4 A21.6,21.6 0 1 1 658.8,299.4 C658.8,285.1 673.1,281.2 679.6,271.8Z" fill="url(#gDrop)"/><path d="M677.2,278.9 Q668.5,286.4 667.4,296.2" fill="none" stroke="#fff" stroke-opacity="0.45" stroke-width="2.8" stroke-linecap="round"/>
<text x="680.4" y="305.5" text-anchor="middle" font-family="'Liberation Sans', sans-serif" font-weight="700" font-size="9.6" fill="#fff" letter-spacing="0.4">H<tspan font-size="7.4" dy="2.6">2</tspan><tspan dy="-2.6">O</tspan></text>
<g transform="translate(0,0)"><path d="M360.7,263.6L387.6,262.6C386.1,265.1 380.5,272.9 378.4,277.8C376.3,282.7 374.9,287.1 375,292.2C375.1,297.3 377.3,303.4 378.8,308.2C380.3,313 383.1,316.9 384,321C384.9,325.1 384.7,328.8 384.2,333C383.7,337.2 382.7,342.3 381,346.4C379.3,350.5 375,355.7 373.8,357.6L380.4,359.2L355.8,373.4L342.2,356L351.4,355.2C352.6,353.4 356.7,348.4 358.4,344.5C360.1,340.6 361.4,335.9 361.8,332C362.2,328.1 361.8,324.7 361,321C360.2,317.3 358.4,314.3 357,309.8C355.6,305.3 353.1,299.1 352.6,293.8C352.1,288.5 352.9,282.8 354.2,277.8C355.5,272.8 359.6,266 360.7,263.6Z" fill="#fff27a" stroke="#fff27a" stroke-width="21" stroke-linejoin="round" filter="url(#blur2)" opacity="0.9"/><path d="M360.7,263.6L387.6,262.6C386.1,265.1 380.5,272.9 378.4,277.8C376.3,282.7 374.9,287.1 375,292.2C375.1,297.3 377.3,303.4 378.8,308.2C380.3,313 383.1,316.9 384,321C384.9,325.1 384.7,328.8 384.2,333C383.7,337.2 382.7,342.3 381,346.4C379.3,350.5 375,355.7 373.8,357.6L380.4,359.2L355.8,373.4L342.2,356L351.4,355.2C352.6,353.4 356.7,348.4 358.4,344.5C360.1,340.6 361.4,335.9 361.8,332C362.2,328.1 361.8,324.7 361,321C360.2,317.3 358.4,314.3 357,309.8C355.6,305.3 353.1,299.1 352.6,293.8C352.1,288.5 352.9,282.8 354.2,277.8C355.5,272.8 359.6,266 360.7,263.6Z" fill="#fff200" stroke="#fff200" stroke-width="16" stroke-linejoin="round"/><path d="M360.7,263.6L387.6,262.6C386.1,265.1 380.5,272.9 378.4,277.8C376.3,282.7 374.9,287.1 375,292.2C375.1,297.3 377.3,303.4 378.8,308.2C380.3,313 383.1,316.9 384,321C384.9,325.1 384.7,328.8 384.2,333C383.7,337.2 382.7,342.3 381,346.4C379.3,350.5 375,355.7 373.8,357.6L380.4,359.2L355.8,373.4L342.2,356L351.4,355.2C352.6,353.4 356.7,348.4 358.4,344.5C360.1,340.6 361.4,335.9 361.8,332C362.2,328.1 361.8,324.7 361,321C360.2,317.3 358.4,314.3 357,309.8C355.6,305.3 353.1,299.1 352.6,293.8C352.1,288.5 352.9,282.8 354.2,277.8C355.5,272.8 359.6,266 360.7,263.6Z" fill="#fffbe0" stroke="#fffbe0" stroke-width="5.5" stroke-linejoin="round" filter="url(#blur1)"/><path d="M360.7,263.6L387.6,262.6C386.1,265.1 380.5,272.9 378.4,277.8C376.3,282.7 374.9,287.1 375,292.2C375.1,297.3 377.3,303.4 378.8,308.2C380.3,313 383.1,316.9 384,321C384.9,325.1 384.7,328.8 384.2,333C383.7,337.2 382.7,342.3 381,346.4C379.3,350.5 375,355.7 373.8,357.6L380.4,359.2L355.8,373.4L342.2,356L351.4,355.2C352.6,353.4 356.7,348.4 358.4,344.5C360.1,340.6 361.4,335.9 361.8,332C362.2,328.1 361.8,324.7 361,321C360.2,317.3 358.4,314.3 357,309.8C355.6,305.3 353.1,299.1 352.6,293.8C352.1,288.5 352.9,282.8 354.2,277.8C355.5,272.8 359.6,266 360.7,263.6Z" fill="url(#gHeat)"/><text transform="translate(368.2,297.5) rotate(-74)" font-family="'Liberation Sans', sans-serif" font-weight="700" font-size="10.4" fill="#fff8e8" textLength="30" lengthAdjust="spacingAndGlyphs">HEAT</text></g>
<g transform="translate(187.5,16)"><path d="M360.7,263.6L387.6,262.6C386.1,265.1 380.5,272.9 378.4,277.8C376.3,282.7 374.9,287.1 375,292.2C375.1,297.3 377.3,303.4 378.8,308.2C380.3,313 383.1,316.9 384,321C384.9,325.1 384.7,328.8 384.2,333C383.7,337.2 382.7,342.3 381,346.4C379.3,350.5 375,355.7 373.8,357.6L380.4,359.2L355.8,373.4L342.2,356L351.4,355.2C352.6,353.4 356.7,348.4 358.4,344.5C360.1,340.6 361.4,335.9 361.8,332C362.2,328.1 361.8,324.7 361,321C360.2,317.3 358.4,314.3 357,309.8C355.6,305.3 353.1,299.1 352.6,293.8C352.1,288.5 352.9,282.8 354.2,277.8C355.5,272.8 359.6,266 360.7,263.6Z" fill="#fff27a" stroke="#fff27a" stroke-width="21" stroke-linejoin="round" filter="url(#blur2)" opacity="0.9"/><path d="M360.7,263.6L387.6,262.6C386.1,265.1 380.5,272.9 378.4,277.8C376.3,282.7 374.9,287.1 375,292.2C375.1,297.3 377.3,303.4 378.8,308.2C380.3,313 383.1,316.9 384,321C384.9,325.1 384.7,328.8 384.2,333C383.7,337.2 382.7,342.3 381,346.4C379.3,350.5 375,355.7 373.8,357.6L380.4,359.2L355.8,373.4L342.2,356L351.4,355.2C352.6,353.4 356.7,348.4 358.4,344.5C360.1,340.6 361.4,335.9 361.8,332C362.2,328.1 361.8,324.7 361,321C360.2,317.3 358.4,314.3 357,309.8C355.6,305.3 353.1,299.1 352.6,293.8C352.1,288.5 352.9,282.8 354.2,277.8C355.5,272.8 359.6,266 360.7,263.6Z" fill="#fff200" stroke="#fff200" stroke-width="16" stroke-linejoin="round"/><path d="M360.7,263.6L387.6,262.6C386.1,265.1 380.5,272.9 378.4,277.8C376.3,282.7 374.9,287.1 375,292.2C375.1,297.3 377.3,303.4 378.8,308.2C380.3,313 383.1,316.9 384,321C384.9,325.1 384.7,328.8 384.2,333C383.7,337.2 382.7,342.3 381,346.4C379.3,350.5 375,355.7 373.8,357.6L380.4,359.2L355.8,373.4L342.2,356L351.4,355.2C352.6,353.4 356.7,348.4 358.4,344.5C360.1,340.6 361.4,335.9 361.8,332C362.2,328.1 361.8,324.7 361,321C360.2,317.3 358.4,314.3 357,309.8C355.6,305.3 353.1,299.1 352.6,293.8C352.1,288.5 352.9,282.8 354.2,277.8C355.5,272.8 359.6,266 360.7,263.6Z" fill="#fffbe0" stroke="#fffbe0" stroke-width="5.5" stroke-linejoin="round" filter="url(#blur1)"/><path d="M360.7,263.6L387.6,262.6C386.1,265.1 380.5,272.9 378.4,277.8C376.3,282.7 374.9,287.1 375,292.2C375.1,297.3 377.3,303.4 378.8,308.2C380.3,313 383.1,316.9 384,321C384.9,325.1 384.7,328.8 384.2,333C383.7,337.2 382.7,342.3 381,346.4C379.3,350.5 375,355.7 373.8,357.6L380.4,359.2L355.8,373.4L342.2,356L351.4,355.2C352.6,353.4 356.7,348.4 358.4,344.5C360.1,340.6 361.4,335.9 361.8,332C362.2,328.1 361.8,324.7 361,321C360.2,317.3 358.4,314.3 357,309.8C355.6,305.3 353.1,299.1 352.6,293.8C352.1,288.5 352.9,282.8 354.2,277.8C355.5,272.8 359.6,266 360.7,263.6Z" fill="url(#gHeat)"/><text transform="translate(368.2,297.5) rotate(-74)" font-family="'Liberation Sans', sans-serif" font-weight="700" font-size="10.4" fill="#fff8e8" textLength="30" lengthAdjust="spacingAndGlyphs">HEAT</text></g>
<polygon transform="translate(57.6,394) rotate(5.19)" points="0,0 10,-6.6 8.8,-3.2 61.9,-3.2 60.7,-6.6 70.7,0 60.7,6.6 61.9,3.2 8.8,3.2 10,6.6" fill="url(#gAir)"/>
<polygon transform="translate(60.8,412.4) rotate(5.86)" points="0,0 10,-6.6 8.8,-3.2 61.7,-3.2 60.5,-6.6 70.5,0 60.5,6.6 61.7,3.2 8.8,3.2 10,6.6" fill="url(#gAir)"/>
<polygon transform="translate(64,430) rotate(6.56)" points="0,0 10,-6.6 8.8,-3.2 61.3,-3.2 60.1,-6.6 70.1,0 60.1,6.6 61.3,3.2 8.8,3.2 10,6.6" fill="url(#gAir)"/>
<polygon transform="translate(729.6,403.2) rotate(4.13)" points="0,0 10,-6.6 8.8,-3.2 57.8,-3.2 56.6,-6.6 66.6,0 56.6,6.6 57.8,3.2 8.8,3.2 10,6.6" fill="url(#gAir)"/>
<polygon transform="translate(729.6,420) rotate(5.97)" points="0,0 10,-6.6 8.8,-3.2 60.4,-3.2 59.2,-6.6 69.2,0 59.2,6.6 60.4,3.2 8.8,3.2 10,6.6" fill="url(#gAir)"/>
<polygon transform="translate(732,437.6) rotate(6.56)" points="0,0 10,-6.6 8.8,-3.2 61.3,-3.2 60.1,-6.6 70.1,0 60.1,6.6 61.3,3.2 8.8,3.2 10,6.6" fill="url(#gAir)"/>
<g transform="translate(106,336.3) rotate(15.70)"><line x1="0" y1="0" x2="78.3" y2="0" stroke="#1a1a1a" stroke-width="1.8"/><polygon points="88.3,0 76.3,-4.6 78.5,0 76.3,4.6" fill="#000"/></g>
<g transform="translate(125,489.4) rotate(-21.34)"><line x1="0" y1="0" x2="36.2" y2="0" stroke="#1a1a1a" stroke-width="1.8"/><polygon points="46.2,0 34.2,-4.6 36.4,0 34.2,4.6" fill="#000"/></g>
<g transform="translate(827,484) rotate(-165.23)"><line x1="0" y1="0" x2="123.4" y2="0" stroke="#333" stroke-width="1.4"/><polygon points="133.4,0 121.4,-4.6 123.6,0 121.4,4.6" fill="#000"/></g>
<g font-family="'Liberation Sans', sans-serif" font-size="12.3" fill="#111" stroke="#111" stroke-width="0.25">
<text x="29.8" y="302.3" textLength="64.4" lengthAdjust="spacingAndGlyphs">TOP LAYER</text>
<text x="29.8" y="319.8" textLength="143.6" lengthAdjust="spacingAndGlyphs">permeable to liquid and</text>
<text x="29.8" y="336.8" textLength="65" lengthAdjust="spacingAndGlyphs">breathable</text>
<text x="20.2" y="489.2" textLength="93" lengthAdjust="spacingAndGlyphs">BOTTOM LAYER</text>
<text x="20.4" y="506.2" textLength="117.6" lengthAdjust="spacingAndGlyphs">can be designed for</text>
<text x="20.4" y="522.8" textLength="67.6" lengthAdjust="spacingAndGlyphs">application</text>
<text x="837.2" y="471.6" textLength="89" lengthAdjust="spacingAndGlyphs">SPACER LAYER:</text>
<text x="837.6" y="488.8" textLength="149.4" lengthAdjust="spacingAndGlyphs">transport moisture vapor</text>
<text x="837.4" y="505.6" textLength="152.6" lengthAdjust="spacingAndGlyphs">and heat away and allows</text>
<text x="837.4" y="522.2" textLength="43.4" lengthAdjust="spacingAndGlyphs">air flow</text>
</g>
<g font-family="'Liberation Sans', sans-serif" font-size="8.9" lengthAdjust="spacingAndGlyphs">
<text x="416.2" y="235.8" textLength="75.6" lengthAdjust="spacingAndGlyphs" fill="#2b86bb">MOISTURE VAPOR</text>
<text x="9.6" y="414.8" textLength="40.8" lengthAdjust="spacingAndGlyphs" fill="#3fa9c9">AIR FLOW</text>
<text x="796.6" y="420.8" textLength="40.6" lengthAdjust="spacingAndGlyphs" fill="#3fa9c9">AIR FLOW</text>
</g>

</g>
<g id="fabric">
<rect x="0" y="606" width="1000" height="394" fill="url(#gDark)"/>
<linearGradient id="gTailB" gradientUnits="userSpaceOnUse" x1="148" y1="0" x2="260" y2="0"><stop offset="0" stop-color="#fff" stop-opacity="0.07"/><stop offset="1" stop-color="#fff" stop-opacity="0.30"/></linearGradient>
<linearGradient id="gTailC" gradientUnits="userSpaceOnUse" x1="234" y1="0" x2="330" y2="0"><stop offset="0" stop-color="#fff" stop-opacity="0.06"/><stop offset="1" stop-color="#fff" stop-opacity="0.27"/></linearGradient>
<path d="M147.5,818 C165,824 185,826 202.5,825.5 C225,824 240,816 255,808 L255,834 C240,842 225,849 202.5,850 C185,851 165,851 150,852.5 L183,835Z" fill="url(#gTailB)" filter="url(#blur1)"/>
<path d="M234,904 C250,909 270,910 290,907.7 C305,905 315,901 325,897 L332,920 C320,926 305,932 290,934 C270,937 250,937 237.5,937.5 L266,920Z" fill="url(#gTailC)" filter="url(#blur1)"/>
<path d="M183.5,760L333,907C334.8,907.6 339.2,909.2 344,910.4C348.8,911.6 356,913 362,914C368,915 374,916 380,916.7C386,917.5 392,918 398,918.5C404,919 410,919.5 416,919.6C422,919.7 426.3,920.2 434,919.2C441.7,918.2 454.3,916 462,913.5C469.7,911 473.7,908.1 480,904C486.3,899.9 493.3,894 500,889C506.7,884 513.3,879.8 520,874C526.7,868.2 533.3,861.3 540,854C546.7,846.7 553.3,837 560,830C566.7,823 573.3,817 580,812C586.7,807 593.3,803 600,800C606.7,797 613.3,795.5 620,794C626.7,792.5 633.3,791.8 640,791C646.7,790.2 650.8,789.8 660,789.5C669.2,789.2 685,788.9 695,789C705,789.1 711.8,789.2 720,790C728.2,790.8 740,793.3 744,794L737,825.5C733.3,824.6 722,821.2 715,820C708,818.8 702.5,818.5 695,818.5C687.5,818.5 679.2,818.4 670,820C660.8,821.6 648.3,825 640,828C631.7,831 626.7,834 620,838C613.3,842 606.7,846.7 600,852C593.3,857.3 586.7,863.7 580,870C573.3,876.3 566.7,883.3 560,890C553.3,896.7 546.7,904 540,910C533.3,916 526.7,921.3 520,926C513.3,930.7 506.7,934.7 500,938C493.3,941.3 486.3,943.8 480,946C473.7,948.2 469.7,949.6 462,951C454.3,952.4 441.7,953.8 434,954.5C426.3,955.2 422,955.2 416,955.4C410,955.5 404,955.5 398,955.4C392,955.2 386,955 380,954.5C374,954 368,953.5 362,952.7C356,952 349.1,950.9 344,950C338.9,949.1 333.5,947.8 331.4,947.3L282,897L230,845L185,797.5Z" fill="url(#weave)"/>
<path d="M184,760C190,760.8 208.2,763.8 220,764.5C231.8,765.2 243.3,765.1 255,764.5C266.7,763.9 278.3,763.7 290,761C301.7,758.3 313.3,754.1 325,748.5C336.7,742.9 348.3,735.1 360,727.5C371.7,719.9 383.3,710.6 395,703C406.7,695.4 418.3,687 430,682C441.7,677 453.3,674.8 465,673C476.7,671.2 490,671.6 500,671.5C510,671.4 516.4,671.6 525,672.5C533.6,673.4 547.1,676.2 551.5,677L744,794C740,793.3 728.2,790.8 720,790C711.8,789.2 705,789.1 695,789C685,788.9 669.2,789.2 660,789.5C650.8,789.8 646.7,790.2 640,791C633.3,791.8 626.7,792.5 620,794C613.3,795.5 606.7,797 600,800C593.3,803 586.7,807 580,812C573.3,817 566.7,823 560,830C553.3,837 546.7,846.7 540,854C533.3,861.3 526.7,868.2 520,874C513.3,879.8 506.7,884 500,889C493.3,894 486.3,899.9 480,904C473.7,908.1 469.7,911 462,913.5C454.3,916 441.7,918.2 434,919.2C426.3,920.2 422,919.7 416,919.6C410,919.5 404,919 398,918.5C392,918 386,917.5 380,916.7C374,916 368,915 362,914C356,913 348.8,911.6 344,910.4C339.2,909.2 334.8,907.6 333,907L184,760Z" fill="url(#honey)" stroke="#3a1f1f" stroke-width="0.8"/>
<clipPath id="clipSurf"><path d="M184,760C190,760.8 208.2,763.8 220,764.5C231.8,765.2 243.3,765.1 255,764.5C266.7,763.9 278.3,763.7 290,761C301.7,758.3 313.3,754.1 325,748.5C336.7,742.9 348.3,735.1 360,727.5C371.7,719.9 383.3,710.6 395,703C406.7,695.4 418.3,687 430,682C441.7,677 453.3,674.8 465,673C476.7,671.2 490,671.6 500,671.5C510,671.4 516.4,671.6 525,672.5C533.6,673.4 547.1,676.2 551.5,677L744,794C740,793.3 728.2,790.8 720,790C711.8,789.2 705,789.1 695,789C685,788.9 669.2,789.2 660,789.5C650.8,789.8 646.7,790.2 640,791C633.3,791.8 626.7,792.5 620,794C613.3,795.5 606.7,797 600,800C593.3,803 586.7,807 580,812C573.3,817 566.7,823 560,830C553.3,837 546.7,846.7 540,854C533.3,861.3 526.7,868.2 520,874C513.3,879.8 506.7,884 500,889C493.3,894 486.3,899.9 480,904C473.7,908.1 469.7,911 462,913.5C454.3,916 441.7,918.2 434,919.2C426.3,920.2 422,919.7 416,919.6C410,919.5 404,919 398,918.5C392,918 386,917.5 380,916.7C374,916 368,915 362,914C356,913 348.8,911.6 344,910.4C339.2,909.2 334.8,907.6 333,907L184,760Z"/></clipPath>
<linearGradient id="gHead" x1="0" y1="1" x2="1" y2="0"><stop offset="0" stop-color="#d2d2d2"/><stop offset="0.6" stop-color="#efefef"/><stop offset="1" stop-color="#fafafa"/></linearGradient>
<linearGradient id="gA" gradientUnits="userSpaceOnUse" x1="338" y1="762" x2="481" y2="696"><stop offset="0" stop-color="#fff" stop-opacity="0.14"/><stop offset="1" stop-color="#fff" stop-opacity="0.86"/></linearGradient>
<linearGradient id="gB" gradientUnits="userSpaceOnUse" x1="214" y1="835" x2="327" y2="777"><stop offset="0" stop-color="#fff" stop-opacity="0.36"/><stop offset="1" stop-color="#fff" stop-opacity="0.92"/></linearGradient>
<linearGradient id="gC" gradientUnits="userSpaceOnUse" x1="296" y1="916" x2="410" y2="861"><stop offset="0" stop-color="#fff" stop-opacity="0.3"/><stop offset="1" stop-color="#fff" stop-opacity="0.92"/></linearGradient>
<linearGradient id="gD" gradientUnits="userSpaceOnUse" x1="398" y1="823" x2="567" y2="758"><stop offset="0" stop-color="#fff" stop-opacity="0.05"/><stop offset="1" stop-color="#fff" stop-opacity="0.88"/></linearGradient>
<g clip-path="url(#clipSurf)">
<path d="M338,761.5C341.2,760.8 351.5,758.8 357,757.5C362.5,756.2 363.8,755.9 371,753.6C378.2,751.4 390.5,748 400,744C409.5,740 419.3,734.6 428,729.6C436.7,724.6 445.3,718.5 452,714C458.7,709.5 463.2,705.7 468,702.5C472.8,699.3 478.8,696.2 481,695" fill="none" stroke="url(#gA)" stroke-width="21"/>
<path d="M210,836.5C214.3,835.2 228.5,831.6 236,829C243.5,826.4 248.3,824.2 255,821C261.7,817.8 269,813.9 276,810C283,806.1 288.5,803.1 297,797.5C305.5,791.9 322,780 327,776.5" fill="none" stroke="url(#gB)" stroke-width="22.5"/>
<path d="M290,920.5C294.7,918.9 309.7,913.8 318,911C326.3,908.2 332.5,906.5 340,903.5C347.5,900.5 355.5,896.9 363,893C370.5,889.1 377.2,885.4 385,880C392.8,874.6 405.8,863.8 410,860.5" fill="none" stroke="url(#gC)" stroke-width="22.5"/>
<path d="M398,823C402.5,821.8 416.3,818.5 425,816C433.7,813.5 440,810.8 450,808C460,805.2 473.3,803 485,799C496.7,795 510,789.2 520,784C530,778.8 537.2,772.3 545,768C552.8,763.7 563.3,759.7 567,758" fill="none" stroke="url(#gD)" stroke-width="24"/>
</g>
<polygon points="497,684 466,687 495.5,719" fill="url(#gHead)"/>
<polygon points="344,759 307.5,761 344,794" fill="url(#gHead)"/>
<polygon points="426.5,842 391.5,845 426.5,878" fill="url(#gHead)"/>
<polygon points="585,739 548,743 585,775" fill="url(#gHead)"/>
<text x="138.6" y="707.5" font-family="'Liberation Sans', sans-serif" font-size="25.8" fill="#f6f6f6" stroke="#f6f6f6" stroke-width="0.35" textLength="120" lengthAdjust="spacingAndGlyphs">Breathable</text>
<text x="600.4" y="944.2" font-family="'Liberation Sans', sans-serif" font-size="34.2" fill="#e8e8e8" stroke="#1d1d1d" stroke-width="0.65" textLength="326.5" lengthAdjust="spacingAndGlyphs">Good air permeability</text>
</g></svg>
</body></html>
